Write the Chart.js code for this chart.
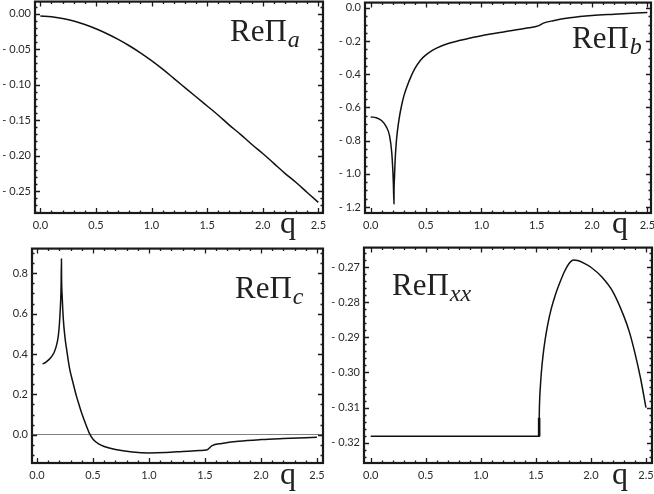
<!DOCTYPE html>
<html>
<head>
<meta charset="utf-8">
<script src="https://cdn.jsdelivr.net/npm/chart.js@4.4.1/dist/chart.umd.min.js"></script>
<style>
  html, body { margin: 0; padding: 0; background: #fff; }
  body { width: 654px; height: 494px; position: relative; overflow: hidden; }
  .panel { position: absolute; }
  .lbl { position: absolute; font-family: "Liberation Serif", "DejaVu Serif", serif; font-size: 31px; line-height: 1; color: #222; white-space: nowrap; z-index: 2; }
  .lbl i { font-family: "Liberation Serif", serif; font-size: 24px; position: relative; top: 6px; margin-left: 1px; }
  .q { position: absolute; font-family: "Liberation Serif", serif; font-size: 32px; line-height: 1; color: #222; z-index: 2; }
</style>
</head>
<body>
<div class="panel" id="boxA"><canvas id="chartA"></canvas></div>
<div class="panel" id="boxB"><canvas id="chartB"></canvas></div>
<div class="panel" id="boxC"><canvas id="chartC"></canvas></div>
<div class="panel" id="boxD"><canvas id="chartD"></canvas></div>

<div class="lbl" style="left:230px; top:15px">ReΠ<i>a</i></div>
<div class="lbl" style="left:572px; top:22px">ReΠ<i>b</i></div>
<div class="lbl" style="left:235px; top:272px">ReΠ<i>c</i></div>
<div class="lbl" style="left:392px; top:269px">ReΠ<i>xx</i></div>
<div class="q" style="left:280px; top:206px">q</div>
<div class="q" style="left:612px; top:206px">q</div>
<div class="q" style="left:280px; top:457px">q</div>
<div class="q" style="left:612px; top:457px">q</div>

<script>
// tick labels (shared x axis, one y list per panel)
var xTicks = [0, 0.5, 1.0, 1.5, 2.0, 2.5];
var yTicksA = [0, -0.05, -0.10, -0.15, -0.20, -0.25];
var yTicksB = [0, -0.2, -0.4, -0.6, -0.8, -1.0, -1.2];
var yTicksC = [0, 0.2, 0.4, 0.6, 0.8];
var yTicksD = [-0.27, -0.28, -0.29, -0.30, -0.31, -0.32];

// Re Pi_a
var qA  = [0, 0.1, 0.2, 0.3, 0.4, 0.5, 0.6, 0.7, 0.8, 0.9, 1.0, 1.1, 1.2, 1.3, 1.4, 1.5, 1.6, 1.7, 1.8, 1.9, 2.0, 2.1, 2.2, 2.3, 2.4, 2.5];
var reA = [-0.003, -0.004, -0.0065, -0.010, -0.015, -0.021, -0.028, -0.036, -0.045, -0.055, -0.066, -0.078, -0.091, -0.104, -0.117, -0.130, -0.143, -0.157, -0.170, -0.184, -0.197, -0.211, -0.225, -0.238, -0.252, -0.266];

// Re Pi_b
var qB  = [0, 0.05, 0.10, 0.14, 0.17, 0.19, 0.20, 0.205, 0.21, 0.211, 0.215, 0.22, 0.23, 0.24, 0.26, 0.28, 0.30, 0.33, 0.36, 0.40, 0.45, 0.50, 0.55, 0.60, 0.70, 0.80, 0.90, 1.0, 1.2, 1.4, 1.52, 1.56, 1.65, 1.8, 2.0, 2.2, 2.5];
var reB = [-0.657, -0.662, -0.68, -0.715, -0.77, -0.87, -0.98, -1.06, -1.18, -1.10, -1.02, -0.93, -0.82, -0.75, -0.655, -0.585, -0.53, -0.47, -0.42, -0.365, -0.315, -0.283, -0.259, -0.241, -0.215, -0.197, -0.181, -0.168, -0.145, -0.123, -0.107, -0.092, -0.077, -0.060, -0.046, -0.038, -0.027];

// Re Pi_c
var qC  = [0.05, 0.08, 0.12, 0.15, 0.17, 0.19, 0.20, 0.21, 0.215, 0.218, 0.219, 0.225, 0.235, 0.25, 0.265, 0.29, 0.32, 0.35, 0.38, 0.40, 0.44, 0.47, 0.50, 0.55, 0.60, 0.70, 0.85, 1.0, 1.15, 1.3, 1.45, 1.52, 1.56, 1.65, 1.8, 2.0, 2.2, 2.5];
var reC = [0.35, 0.36, 0.38, 0.405, 0.435, 0.49, 0.55, 0.65, 0.74, 0.87, 0.79, 0.68, 0.57, 0.48, 0.42, 0.33, 0.26, 0.195, 0.14, 0.105, 0.045, 0.004, -0.022, -0.045, -0.058, -0.073, -0.085, -0.09, -0.088, -0.083, -0.078, -0.074, -0.055, -0.043, -0.032, -0.024, -0.019, -0.013];

// Re Pi_xx
var qD  = [0, 0.5, 1.0, 1.5, 1.53, 1.531, 1.535, 1.54, 1.55, 1.565, 1.585, 1.61, 1.64, 1.68, 1.72, 1.76, 1.80, 1.84, 1.88, 1.94, 2.0, 2.1, 2.2, 2.3, 2.35, 2.4, 2.45, 2.5];
var reD = [-0.3182, -0.3182, -0.3182, -0.3182, -0.3182, -0.3129, -0.3075, -0.3045, -0.3000, -0.2952, -0.2905, -0.2860, -0.2818, -0.2776, -0.2742, -0.2712, -0.2690, -0.2679, -0.2681, -0.2689, -0.2700, -0.2728, -0.2770, -0.2840, -0.2885, -0.2945, -0.3015, -0.3100];
var qDjump  = [1.53, 1.53];
var reDjump = [-0.3182, -0.3129];

var PAD = { l: 40, t: 10, r: 12, b: 30 };
var LINE = '#111';

function pts(xs, ys) {
    return xs.map(function(x, i) { return { x: x, y: ys[i] }; });
}

function fmt(d) {
    return function(v) { return (v < -1e-9 ? '- ' : '') + Math.abs(v).toFixed(d); };
}

// Mathematica-like frame with inward ticks on all four sides
var framePlugin = {
    id: 'frame',
    afterDatasetsDraw: function(chart, args, opts) {
        var ctx = chart.ctx, a = chart.chartArea;
        var sx = chart.scales.x, sy = chart.scales.y;
        ctx.save();
        ctx.strokeStyle = '#1a1a1a';
        ctx.lineWidth = 1.3;
        function marks(scale, step, isX) {
            var major = scale.ticks.map(function(t) { return t.value; });
            var k0 = Math.ceil(scale.min / step - 1e-6);
            for (var k = k0; k * step <= scale.max + 1e-9; k++) {
                var v = k * step;
                var isMajor = major.some(function(m) { return Math.abs(m - v) < step / 10; });
                var len = isMajor ? 5 : 2.5;
                var p = Math.round(scale.getPixelForValue(v)) + 0.5;
                ctx.beginPath();
                if (isX) {
                    ctx.moveTo(p, a.bottom); ctx.lineTo(p, a.bottom - len);
                    ctx.moveTo(p, a.top); ctx.lineTo(p, a.top + len);
                } else {
                    ctx.moveTo(a.left, p); ctx.lineTo(a.left + len, p);
                    ctx.moveTo(a.right, p); ctx.lineTo(a.right - len, p);
                }
                ctx.stroke();
            }
        }
        marks(sx, opts.xMinor, true);
        marks(sy, opts.yMinor, false);
        ctx.lineWidth = 2.2;
        ctx.strokeRect(a.left, a.top, a.right - a.left, a.bottom - a.top);
        ctx.restore();
    }
};

function panel(id, area, c) {
    var div = document.getElementById('box' + id);
    div.style.left = (area[0] - PAD.l) + 'px';
    div.style.top = (area[1] - PAD.t) + 'px';
    div.style.width = (area[2] - area[0] + PAD.l + PAD.r) + 'px';
    div.style.height = (area[3] - area[1] + PAD.t + PAD.b) + 'px';

    var tickFont = { family: 'Lato, "DejaVu Sans", sans-serif', size: 11 };
    var datasets = c.series.map(function(s) {
        return {
            data: s.data,
            borderColor: LINE,
            borderWidth: s.width || 1.5,
            pointRadius: 0,
            fill: false,
            cubicInterpolationMode: 'monotone'
        };
    });

    new Chart(document.getElementById('chart' + id).getContext('2d'), {
        type: 'line',
        data: { datasets: datasets },
        options: {
            responsive: true,
            maintainAspectRatio: false,
            animation: false,
            layout: { padding: { top: PAD.t, right: PAD.r, left: 0, bottom: 0 } },
            plugins: {
                legend: { display: false },
                tooltip: { enabled: false },
                frame: { xMinor: 0.1, yMinor: c.yMinor }
            },
            scales: {
                x: {
                    type: 'linear',
                    min: c.x[0], max: c.x[1],
                    afterBuildTicks: function(s) { s.ticks = xTicks.map(function(v) { return { value: v }; }); },
                    afterFit: function(s) { s.height = PAD.b; },
                    grid: { display: false, drawTicks: false },
                    border: { display: false },
                    ticks: { callback: fmt(1), font: tickFont, color: '#2a2a2a', padding: 6, maxRotation: 0, autoSkip: false }
                },
                y: {
                    type: 'linear',
                    min: c.y[0], max: c.y[1],
                    afterBuildTicks: function(s) { s.ticks = c.yTicks.map(function(v) { return { value: v }; }); },
                    afterFit: function(s) { s.width = PAD.l; },
                    grid: {
                        display: !!c.zeroLine,
                        drawTicks: false,
                        lineWidth: 1,
                        color: function(ctx) { return ctx.tick && Math.abs(ctx.tick.value) < 1e-9 ? '#808080' : 'rgba(0,0,0,0)'; }
                    },
                    border: { display: false },
                    ticks: { callback: fmt(c.yDec), font: tickFont, color: '#2a2a2a', padding: 4, autoSkip: false }
                }
            }
        },
        plugins: [framePlugin]
    });
}

panel('A', [35, 1, 323, 213], {
    x: [-0.048, 2.542], y: [-0.281, 0.0173], yTicks: yTicksA, yDec: 2, yMinor: 0.01,
    series: [{ data: pts(qA, reA) }]
});
panel('B', [365, 2, 651, 213], {
    x: [-0.0515, 2.533], y: [-1.236, 0.032], yTicks: yTicksB, yDec: 1, yMinor: 0.05,
    series: [{ data: pts(qB, reB) }]
});
panel('C', [32, 248, 323, 463], {
    x: [-0.045, 2.554], y: [-0.14, 0.922], yTicks: yTicksC, yDec: 1, yMinor: 0.05, zeroLine: true,
    series: [{ data: pts(qC, reC) }]
});
panel('D', [364, 247, 652, 463], {
    x: [-0.061, 2.555], y: [-0.3258, -0.2644], yTicks: yTicksD, yDec: 2, yMinor: 0.002,
    series: [{ data: pts(qD, reD) }, { data: pts(qDjump, reDjump), width: 2.6 }]
});
</script>
</body>
</html>
